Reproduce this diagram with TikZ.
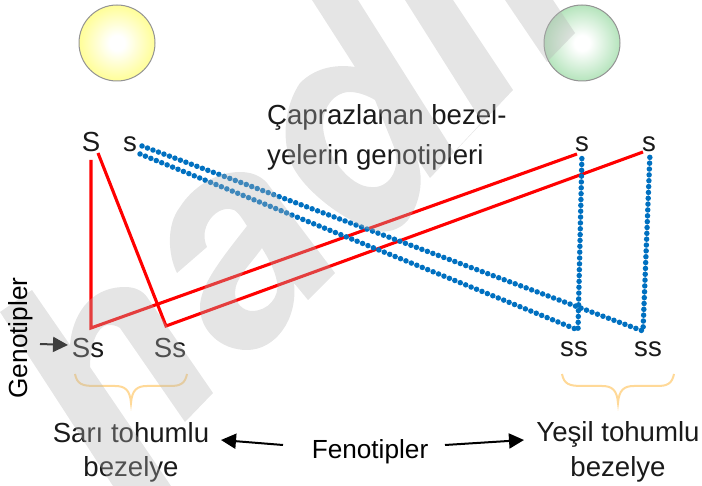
\documentclass[tikz,border=0pt]{standalone}
\usepackage{fontspec}
\setmainfont{Liberation Sans}
\usetikzlibrary{arrows.meta}
\definecolor{wmgray}{HTML}{B4B4B4}
\definecolor{redline}{HTML}{FF0000}
\definecolor{blueline}{HTML}{0070C0}
\definecolor{bracec}{HTML}{FFD998}
\definecolor{inkc}{HTML}{1A1A1A}
\definecolor{peayel}{HTML}{FFFD78}
\definecolor{peagrn}{HTML}{9FDCA8}
\pgfdeclareradialshading{yelshade}{\pgfpointorigin}{color(0bp)=(white); color(5bp)=(white); color(31bp)=(peayel); color(50bp)=(peayel)}
\pgfdeclareradialshading{grnshade}{\pgfpointorigin}{color(0bp)=(white); color(5bp)=(white); color(31bp)=(peagrn); color(50bp)=(peagrn)}
\tikzset{
  pea/.style={draw=black!42,line width=1pt},
  redpath/.style={draw=redline,line width=3.1pt,line join=miter},
  bluepath/.style={draw=blueline,line width=5.5pt,line cap=round,dash pattern=on 0pt off 5.85pt,line join=round},
  bracepath/.style={draw=bracec,line width=2pt},
  lab/.style={font=\fontsize{27.6}{27.6}\selectfont,text=inkc,inner sep=0pt},
  labk/.style={font=\fontsize{26.2}{26.2}\selectfont,text=black,inner sep=0pt},
  arrowk/.style={draw=black,line width=2pt,-{Triangle[length=15pt,width=15pt]}},
}
\newcommand{\orangebrace}[1]{%
  \draw[bracepath,shift={(#1,0)}] (-56,374) .. controls (-54,384) and (-49,386) .. (-36,386) -- (-16,386)
    .. controls (-6,386) and (-1,390) .. (0,403) .. controls (1,390) and (6,386) .. (16,386) -- (39,386)
    .. controls (49,386) and (54,384) .. (56,374);}
\begin{document}
\begin{tikzpicture}[x=1pt,y=-1pt]
\useasboundingbox (0,0) rectangle (702,486);
% peas
\path[pea,shading=yelshade] (117,43) circle (38);
\path[pea,shading=grnshade] (582,43) circle (38);
% texts under the watermark
\node[lab,anchor=base west] (title1) at (267,125) {Çaprazlanan bezel-};
\node[lab,anchor=base west] (title2) at (267,165) {yelerin genotipleri};
\node[lab] (S1) at (91,142) {S};
\node[lab] (s1) at (130,144) {s};
\node[lab] (s2) at (582,144) {s};
\node[lab] (s3) at (649,144) {s};
\node[lab] (Ss1) at (88,348) {Ss};
\node[lab] (Ss2) at (170,348) {Ss};
\node[lab] (ss1) at (574,349) {ss};
\node[lab] (ss2) at (648,349) {ss};
\node[lab] (sari) at (131,433) {Sarı tohumlu};
\node[lab] (sari2) at (131,469) {bezelye};
\node[lab] (yesil) at (618,434) {Yeşil tohumlu};
\node[lab] (yesil2) at (618,469) {bezelye};
% corners of the crossings
\coordinate (r1a) at (91,160); \coordinate (r1b) at (91,328); \coordinate (r1c) at (577,154);
\coordinate (r2a) at (98,153); \coordinate (r2b) at (166,326); \coordinate (r2c) at (643,152);
\coordinate (b1a) at (142,146); \coordinate (b1b) at (643,331); \coordinate (b1c) at (650,153);
\coordinate (b2a) at (140,154); \coordinate (b2b) at (578,330); \coordinate (b2c) at (582,153);
\draw[redpath] (r1a) -- (r1b) -- (r1c);
\draw[redpath] (r2a) -- (r2b) -- (r2c);
\draw[bluepath] (b1a) -- (b1b) -- (b1c);
\draw[bluepath] (b2a) -- (b2b) -- (b2c);
\orangebrace{131}
\orangebrace{618}
\coordinate (ga) at (40,344);
\coordinate (gb) at (68,345);
\draw[arrowk] (ga) -- (gb);
% watermark
\fill[wmgray,opacity=.35,even odd rule]
  % h
  (0,312) -- (32,290) -- (70,345) .. controls (72,318) and (88,287) .. (125,287) .. controls (134,287) and (142,290) .. (147,297)
  -- (213,393) -- (185,422) -- (120,328) .. controls (116,325) and (112,325) .. (107,325) .. controls (97,327) and (90,345) .. (90,367)
  -- (171,486) -- (113,486) -- cycle
  % a
  (177,273) .. controls (168,255) and (166,225) .. (180,207) .. controls (192,188) and (215,172) .. (240,172) .. controls (250,172) and (260,175) .. (267,183)
  -- (335,273) -- (308,300) -- (294,283) .. controls (298,320) and (275,350) .. (247,350) .. controls (220,350) and (200,330) .. (200,307)
  .. controls (200,285) and (222,258) .. (247,226) .. controls (240,215) and (236,209) .. (230,209) .. controls (215,207) and (198,228) .. (207,247) -- cycle
  (262,248) .. controls (250,265) and (235,278) .. (235,293) .. controls (235,303) and (243,311) .. (252,311) .. controls (268,311) and (280,297) .. (277,282)
  .. controls (275,270) and (268,258) .. (262,248) -- cycle
  % d
  (312,0) -- (358,0) -- (454,152) -- (482,122) -- (405,0) -- (453,0) -- (513,90) -- (430,178) -- (416,157)
  .. controls (424,175) and (422,200) .. (408,220) .. controls (395,236) and (370,235) .. (351,220) .. controls (335,212) and (305,190) .. (293,167)
  .. controls (280,140) and (285,105) .. (300,83) .. controls (315,68) and (335,64) .. (355,67) -- cycle
  (375,100) .. controls (365,94) and (352,90) .. (343,93) .. controls (330,97) and (322,112) .. (323,127) .. controls (325,155) and (350,187) .. (371,187)
  .. controls (388,189) and (402,170) .. (394,147) -- cycle
  % i
  (505,0) -- (553,0) -- (575,33) -- (547,62) -- cycle;
% texts over the watermark
\node[labk,rotate=90] (geno) at (21,338) {Genotipler};
\node[labk] (feno) at (370,452) {Fenotipler};
\coordinate (al) at (283,445); \coordinate (atl) at (221,440);
\coordinate (ar) at (445,445); \coordinate (atr) at (524,440);
\draw[arrowk] (al) -- (atl);
\draw[arrowk] (ar) -- (atr);
\end{tikzpicture}
\end{document}
